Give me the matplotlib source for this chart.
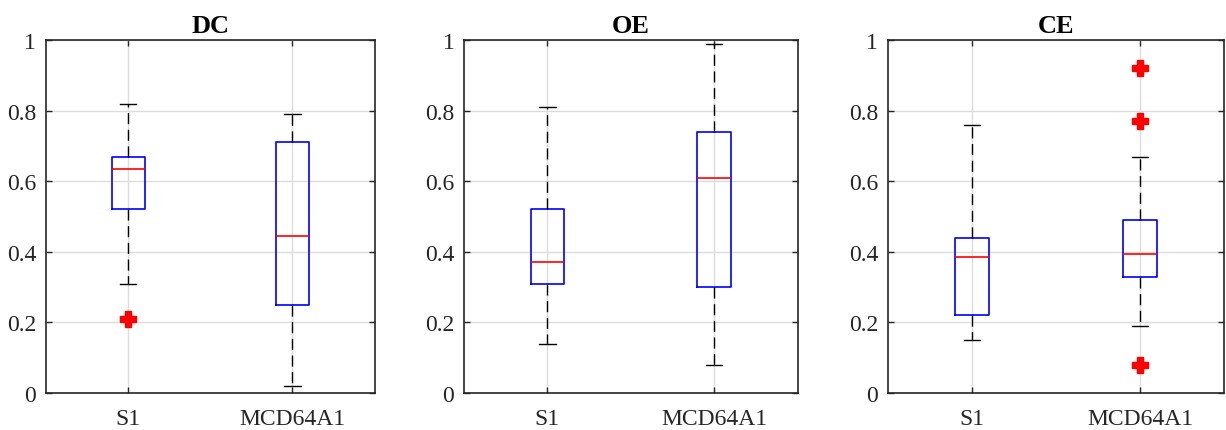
import matplotlib.pyplot as plt

# data
titles = ['DC', 'OE', 'CE']
groups = ['S1', 'MCD64A1']

whislo = [[0.31, 0.02], [0.14, 0.08], [0.15, 0.19]]
q1 = [[0.52, 0.25], [0.31, 0.30], [0.22, 0.33]]
med = [[0.635, 0.445], [0.37, 0.61], [0.385, 0.395]]
q3 = [[0.67, 0.71], [0.52, 0.74], [0.44, 0.49]]
whishi = [[0.82, 0.79], [0.81, 0.99], [0.76, 0.67]]
fliers = [[[0.21], []], [[], []], [[], [0.92, 0.77, 0.08]]]

plt.rcParams['font.family'] = ['Liberation Serif', 'DejaVu Serif']
dark = '#262626'

fig = plt.figure(figsize=(12.26, 4.31), dpi=100)
lefts = [0.0375, 0.3785, 0.7243]
widths = [0.268, 0.272, 0.274]

for k in range(3):
    ax = fig.add_axes([lefts[k], 0.0858, widths[k], 0.819])
    stats = []
    for j in range(2):
        stats.append(dict(whislo=whislo[k][j], q1=q1[k][j], med=med[k][j],
                          q3=q3[k][j], whishi=whishi[k][j], fliers=fliers[k][j]))
    ax.bxp(stats, positions=[1, 2], widths=0.2, showfliers=True,
           boxprops=dict(color='blue', linewidth=1.2),
           medianprops=dict(color='red', linewidth=1.2),
           whiskerprops=dict(color='black', linewidth=1.0, linestyle=(0, (8, 4))),
           capprops=dict(color='black', linewidth=1.0),
           capwidths=0.1,
           flierprops=dict(marker='P', markerfacecolor='red', markeredgecolor='red',
                           markersize=11, linestyle='none'))
    ax.set_xlim(0.5, 2.5)
    ax.set_ylim(0, 1)
    ax.set_xticks([1, 2])
    ax.set_xticklabels(groups)
    ax.set_yticks([0, 0.2, 0.4, 0.6, 0.8, 1])
    ax.set_yticklabels(['0', '0.2', '0.4', '0.6', '0.8', '1'])
    ax.grid(True, color='#dcdcdc', linewidth=1.0)
    ax.set_axisbelow(True)
    ax.tick_params(direction='in', top=True, right=True, length=4, width=1,
                   color=dark, labelcolor=dark, labelsize=17, pad=7)
    ax.tick_params(axis='x', pad=11)
    for s in ax.spines.values():
        s.set_color(dark)
        s.set_linewidth(1.2)
    ax.set_title(titles[k], fontsize=19, fontweight='bold', pad=6)

fig.savefig('out.png', dpi=100)
